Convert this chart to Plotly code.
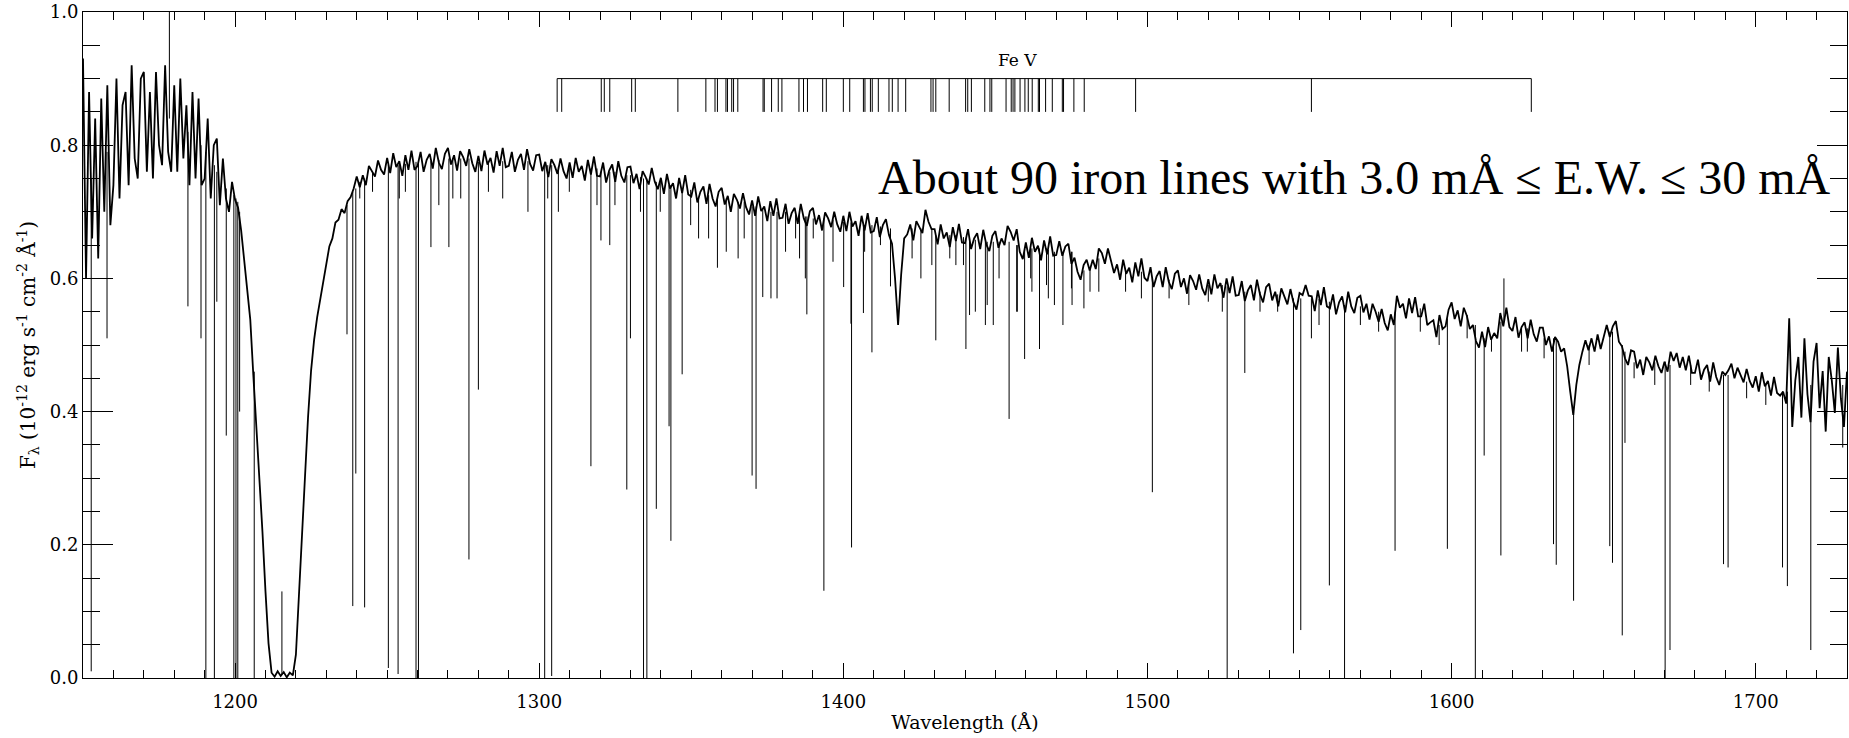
import numpy as np
import plotly.graph_objects as go

# ---------------- data ----------------
# continuum + noise, sampled every 1 Angstrom from 1150 to 1730
wl_start, wl_end = 1150, 1730
flux = [
    0.93, 0.60, 0.88, 0.66, 0.84, 0.63, 0.87, 0.70, 0.89, 0.68,       # 1150
    0.74, 0.90, 0.72, 0.86, 0.88, 0.74, 0.92, 0.78, 0.75, 0.90,       # 1160
    0.91, 0.76, 0.88, 0.75, 0.91, 0.80, 0.77, 0.92, 0.79, 0.76,       # 1170
    0.89, 0.76, 0.90, 0.78, 0.86, 0.74, 0.88, 0.75, 0.87, 0.74,       # 1180
    0.75, 0.84, 0.72, 0.80, 0.81, 0.71, 0.78, 0.72, 0.70, 0.745,      # 1190
    0.718, 0.706, 0.672, 0.625, 0.588, 0.538, 0.455, 0.382, 0.300, 0.220,  # 1200
    0.130, 0.052, 0.008, 0.002, 0.010, 0.003, 0.009, 0.001, 0.008, 0.004,  # 1210
    0.035, 0.128, 0.222, 0.318, 0.392, 0.462, 0.508, 0.542, 0.568, 0.598,  # 1220
    0.622, 0.648, 0.660, 0.684, 0.688, 0.704, 0.698, 0.716, 0.722, 0.735,  # 1230
    0.753, 0.737, 0.755, 0.74, 0.769, 0.762, 0.753, 0.777, 0.763, 0.756,  # 1240
    0.781, 0.758, 0.788, 0.767, 0.776, 0.754, 0.785, 0.763, 0.792, 0.763,  # 1250
    0.769, 0.79, 0.76, 0.778, 0.787, 0.765, 0.796, 0.774, 0.764, 0.787,   # 1260
    0.796, 0.771, 0.785, 0.762, 0.791, 0.782, 0.769, 0.794, 0.773, 0.76,  # 1270
    0.784, 0.761, 0.792, 0.771, 0.781, 0.759, 0.791, 0.769, 0.796, 0.767,  # 1280
    0.769, 0.79, 0.76, 0.778, 0.787, 0.763, 0.794, 0.772, 0.762, 0.785,   # 1290
    0.786, 0.761, 0.775, 0.752, 0.779, 0.77, 0.757, 0.78, 0.761, 0.75,    # 1300
    0.774, 0.751, 0.781, 0.76, 0.769, 0.747, 0.778, 0.756, 0.783, 0.754,  # 1310
    0.753, 0.774, 0.744, 0.762, 0.771, 0.745, 0.776, 0.754, 0.744, 0.767,  # 1320
    0.768, 0.743, 0.757, 0.734, 0.761, 0.752, 0.741, 0.766, 0.745, 0.734,  # 1330
    0.751, 0.727, 0.757, 0.735, 0.743, 0.72, 0.751, 0.728, 0.755, 0.726,  # 1340
    0.723, 0.744, 0.714, 0.73, 0.738, 0.712, 0.742, 0.72, 0.708, 0.73,    # 1350
    0.736, 0.711, 0.724, 0.70, 0.727, 0.718, 0.705, 0.728, 0.707, 0.696,  # 1360
    0.717, 0.694, 0.723, 0.701, 0.708, 0.686, 0.716, 0.694, 0.72, 0.69,   # 1370
    0.691, 0.712, 0.682, 0.698, 0.706, 0.682, 0.712, 0.69, 0.679, 0.701,  # 1380
    0.706, 0.681, 0.695, 0.672, 0.699, 0.69, 0.677, 0.70, 0.681, 0.67,    # 1390
    0.694, 0.671, 0.70, 0.678, 0.686, 0.664, 0.694, 0.672, 0.698, 0.669,  # 1400
    0.671, 0.692, 0.662, 0.68, 0.689, 0.665, 0.652, 0.60, 0.53, 0.605,    # 1410
    0.66, 0.666, 0.681, 0.657, 0.686, 0.677, 0.668, 0.703, 0.685, 0.674,  # 1420
    0.674, 0.651, 0.681, 0.66, 0.669, 0.647, 0.677, 0.656, 0.682, 0.654,  # 1430
    0.653, 0.674, 0.644, 0.66, 0.668, 0.644, 0.673, 0.651, 0.641, 0.664,  # 1440
    0.671, 0.646, 0.66, 0.65, 0.679, 0.67, 0.657, 0.674, 0.64, 0.629,     # 1450
    0.654, 0.631, 0.661, 0.64, 0.649, 0.627, 0.657, 0.636, 0.663, 0.634,  # 1460
    0.635, 0.656, 0.634, 0.648, 0.652, 0.622, 0.631, 0.61, 0.598, 0.62,   # 1470
    0.628, 0.612, 0.628, 0.614, 0.645, 0.638, 0.622, 0.645, 0.624, 0.608,  # 1480
    0.621, 0.598, 0.628, 0.607, 0.616, 0.594, 0.624, 0.603, 0.63, 0.601,  # 1490
    0.596, 0.617, 0.587, 0.603, 0.611, 0.587, 0.617, 0.595, 0.584, 0.607,  # 1500
    0.612, 0.587, 0.60, 0.577, 0.605, 0.596, 0.583, 0.606, 0.585, 0.575,  # 1510
    0.599, 0.576, 0.606, 0.585, 0.593, 0.571, 0.60, 0.578, 0.603, 0.574,  # 1520
    0.575, 0.596, 0.566, 0.582, 0.59, 0.567, 0.598, 0.576, 0.564, 0.587,  # 1530
    0.592, 0.567, 0.58, 0.558, 0.585, 0.574, 0.561, 0.584, 0.564, 0.553,  # 1540
    0.578, 0.575, 0.59, 0.574, 0.573, 0.551, 0.582, 0.56, 0.587, 0.558,   # 1550
    0.555, 0.576, 0.546, 0.564, 0.573, 0.549, 0.58, 0.558, 0.548, 0.571,  # 1560
    0.574, 0.549, 0.562, 0.538, 0.562, 0.55, 0.535, 0.554, 0.533, 0.522,  # 1570
    0.546, 0.53, 0.574, 0.556, 0.562, 0.54, 0.57, 0.548, 0.572, 0.543,    # 1580
    0.543, 0.562, 0.53, 0.534, 0.537, 0.512, 0.545, 0.524, 0.528, 0.553,  # 1590
    0.564, 0.539, 0.552, 0.528, 0.556, 0.544, 0.524, 0.53, 0.506, 0.496,  # 1600
    0.52, 0.497, 0.527, 0.508, 0.518, 0.51, 0.548, 0.528, 0.556, 0.527,   # 1610
    0.521, 0.542, 0.511, 0.527, 0.534, 0.51, 0.538, 0.516, 0.505, 0.526,  # 1620
    0.526, 0.50, 0.513, 0.49, 0.512, 0.505, 0.49, 0.495, 0.468, 0.43,     # 1630
    0.395, 0.44, 0.47, 0.49, 0.507, 0.492, 0.51, 0.49, 0.516, 0.494,      # 1640
    0.51, 0.53, 0.512, 0.528, 0.536, 0.505, 0.498, 0.48, 0.47, 0.492,     # 1650
    0.49, 0.465, 0.478, 0.455, 0.482, 0.474, 0.462, 0.484, 0.468, 0.458,  # 1660
    0.475, 0.46, 0.49, 0.476, 0.488, 0.466, 0.482, 0.462, 0.484, 0.458,   # 1670
    0.458, 0.478, 0.448, 0.463, 0.47, 0.445, 0.474, 0.452, 0.44, 0.46,    # 1680
    0.455, 0.462, 0.472, 0.45, 0.466, 0.456, 0.444, 0.464, 0.446, 0.436,  # 1690
    0.453, 0.43, 0.459, 0.438, 0.446, 0.424, 0.452, 0.428, 0.424, 0.43,   # 1700
    0.412, 0.54, 0.377, 0.447, 0.482, 0.391, 0.51, 0.426, 0.384, 0.475,   # 1710
    0.503, 0.405, 0.461, 0.37, 0.482, 0.447, 0.398, 0.496, 0.419, 0.377,  # 1720
    0.46,                                                                 # 1730
]

# strong narrow absorption (and a few emission) lines:
# wavelength, local continuum, line extreme
line_wl = [1152.7, 1157.9, 1178.4, 1184.5, 1188.8, 1190.4, 1193.2, 1194.0, 1197.1, 1199.6,
           1200.3, 1200.9, 1201.5, 1206.3, 1215.4, 1236.8, 1238.7, 1239.7, 1242.6, 1250.4,
           1253.6, 1259.5, 1260.3, 1264.4, 1270.3, 1276.9, 1280.0, 1301.8, 1304.1, 1317.0,
           1320.3, 1323.2, 1328.8, 1330.0, 1334.3, 1335.4, 1338.5, 1342.7, 1343.3, 1347.0,
           1352.4, 1358.6, 1361.5, 1365.4, 1370.0, 1371.3, 1373.5, 1376.2, 1378.2, 1381.0,
           1385.6, 1387.5, 1388.0, 1393.6, 1396.6, 1400.1, 1402.5, 1402.7, 1406.6, 1409.4,
           1415.5, 1425.5, 1430.4, 1437.0, 1440.3, 1441.5, 1446.7, 1449.3, 1454.5, 1457.2,
           1459.6, 1462.0, 1464.5, 1466.8, 1469.4, 1472.2, 1475.0, 1479.1, 1484.0, 1501.6,
           1520.0, 1526.2, 1532.0, 1548.0, 1550.4, 1553.9, 1559.8, 1564.8, 1581.4, 1598.6,
           1607.8, 1610.7, 1616.2, 1617.2, 1624.9, 1633.5, 1634.4, 1640.1, 1652.0, 1652.9,
           1656.1, 1657.0, 1670.2, 1671.8, 1689.4, 1690.9, 1708.8, 1710.4, 1718.1, 1728.6]
line_top = [0.75, 0.79, 0.84, 0.82, 0.80, 0.79, 0.77, 0.76, 0.735, 0.725,
            0.72, 0.715, 0.70, 0.46, 0.005, 0.71, 0.73, 0.735, 0.75, 0.77,
            0.77, 0.775, 0.775, 0.776, 0.78, 0.78, 0.775, 0.77, 0.77, 0.765,
            0.76, 0.76, 0.755, 0.755, 0.75, 0.75, 0.745, 0.74, 0.74, 0.735,
            0.72, 0.72, 0.72, 0.715, 0.708, 0.708, 0.705, 0.70, 0.70, 0.70,
            0.695, 0.693, 0.693, 0.69, 0.688, 0.685, 0.684, 0.684, 0.68, 0.68,
            0.675, 0.675, 0.665, 0.665, 0.66, 0.66, 0.655, 0.655, 0.655, 0.65,
            0.645, 0.645, 0.645, 0.645, 0.64, 0.64, 0.64, 0.612, 0.63, 0.60,
            0.59, 0.588, 0.58, 0.57, 0.57, 0.57, 0.565, 0.56, 0.55, 0.54,
            0.53, 0.51, 0.535, 0.535, 0.525, 0.51, 0.51, 0.40, 0.52, 0.52,
            0.50, 0.49, 0.475, 0.47, 0.455, 0.455, 0.43, 0.43, 0.44, 0.44]
line_bottom = [0.01, 0.51, 1.00, 0.558, 0.51, 0.0, 0.0, 0.565, 0.364, 0.0,
               0.0, 0.0, 0.40, 0.0, 0.13, 0.516, 0.108, 0.307, 0.106, 0.015,
               0.006, 0.0, 0.0, 0.647, 0.647, 0.178, 0.433, 0.0, 0.003, 0.318,
               0.657, 0.65, 0.283, 0.51, 0.0, 0.0, 0.254, 0.378, 0.206, 0.456,
               0.66, 0.616, 0.64, 0.63, 0.304, 0.284, 0.572, 0.57, 0.57, 0.64,
               0.63, 0.60, 0.546, 0.131, 0.625, 0.587, 0.532, 0.196, 0.548, 0.489,
               0.588, 0.60, 0.507, 0.62, 0.494, 0.545, 0.53, 0.53, 0.389, 0.55,
               0.479, 0.58, 0.494, 0.59, 0.56, 0.53, 0.585, 0.555, 0.58, 0.279,
               0.565, 0.0, 0.458, 0.037, 0.072, 0.51, 0.139, 0.0, 0.191, 0.194,
               0.0, 0.334, 0.184, 0.60, 0.49, 0.201, 0.17, 0.116, 0.198, 0.173,
               0.064, 0.353, 0.0, 0.042, 0.171, 0.166, 0.166, 0.138, 0.042, 0.346]

# weak lines that give the continuum its ragged look: wavelength, continuum, minimum
weak_wl = [1241.0, 1245.2, 1254.0, 1256.0, 1267.0, 1271.6, 1274.2, 1283.3, 1288.0, 1296.3,
           1302.8, 1306.3, 1309.9, 1319.0, 1324.9, 1333.3, 1339.8, 1349.8, 1355.7, 1367.4,
           1384.3, 1390.1, 1407.0, 1412.2, 1422.6, 1429.1, 1435.0, 1439.5, 1443.4, 1447.3,
           1451.2, 1457.0, 1461.6, 1467.4, 1475.2, 1481.1, 1492.8, 1498.0, 1507.1, 1513.6,
           1524.6, 1537.0, 1542.8, 1556.4, 1570.0, 1576.0, 1589.7, 1595.9, 1605.1, 1613.1,
           1623.0, 1630.4, 1645.2, 1660.0, 1666.8, 1678.6, 1684.7, 1697.0, 1703.3]
weak_top = [0.745, 0.76, 0.772, 0.772, 0.778, 0.78, 0.78, 0.776, 0.776, 0.776,
            0.77, 0.768, 0.766, 0.765, 0.76, 0.752, 0.745, 0.733, 0.725, 0.715,
            0.695, 0.69, 0.68, 0.678, 0.675, 0.675, 0.665, 0.662, 0.658, 0.655,
            0.655, 0.65, 0.645, 0.643, 0.64, 0.615, 0.612, 0.61, 0.598, 0.595,
            0.59, 0.58, 0.576, 0.569, 0.558, 0.55, 0.555, 0.53, 0.545, 0.512,
            0.525, 0.51, 0.50, 0.474, 0.474, 0.47, 0.46, 0.445, 0.44]
weak_bottom = [0.72, 0.73, 0.72, 0.73, 0.71, 0.72, 0.72, 0.73, 0.72, 0.70,
               0.72, 0.70, 0.73, 0.71, 0.71, 0.70, 0.70, 0.68, 0.66, 0.66,
               0.66, 0.66, 0.64, 0.65, 0.63, 0.62, 0.63, 0.62, 0.55, 0.56,
               0.60, 0.55, 0.60, 0.57, 0.56, 0.58, 0.58, 0.57, 0.57, 0.56,
               0.55, 0.55, 0.55, 0.53, 0.53, 0.52, 0.52, 0.50, 0.51, 0.49,
               0.49, 0.48, 0.47, 0.45, 0.44, 0.44, 0.43, 0.42, 0.41]

# Fe V line identifications (wavelengths of the marks)
fev_wl = [1305.9, 1307.4, 1320.4, 1321.4, 1323.2, 1330.4, 1331.6, 1345.6, 1354.8, 1357.8,
          1358.6, 1361.4, 1361.9, 1363.3, 1363.9, 1365.3, 1373.6, 1374.0, 1376.4, 1378.6,
          1379.8, 1385.4, 1386.9, 1388.2, 1393.2, 1394.4, 1400.0, 1402.1, 1406.6, 1407.1,
          1408.9, 1409.5, 1411.5, 1415.0, 1416.1, 1418.0, 1420.5, 1428.8, 1429.5, 1430.4,
          1434.8, 1440.2, 1440.9, 1442.1, 1446.5, 1448.2, 1448.8, 1453.5, 1455.2, 1455.8,
          1456.4, 1458.1, 1459.7, 1460.8, 1462.1, 1464.1, 1464.5, 1466.5, 1468.7, 1472.0,
          1472.4, 1475.8, 1479.2, 1496.1, 1553.9, 1626.2]
fev_bar_level = 0.90
fev_tick_bottom = 0.85

x_range = [1150, 1730]
y_range = [0.0, 1.0]

# ---------------- figure ----------------
wavelength = np.arange(wl_start, wl_end + 1)
assert len(wavelength) == len(flux)
assert len(line_wl) == len(line_top) == len(line_bottom)
assert len(weak_wl) == len(weak_top) == len(weak_bottom)

lx, ly = [], []
for w, t, b in zip(line_wl + weak_wl, line_top + weak_top, line_bottom + weak_bottom):
    lx += [w, w, None]
    ly += [t, b, None]

fx = [fev_wl[0], fev_wl[-1], None]
fy = [fev_bar_level, fev_bar_level, None]
for w in fev_wl:
    fx += [w, w, None]
    fy += [fev_bar_level, fev_tick_bottom, None]

fig = go.Figure()
fig.add_trace(go.Scatter(x=wavelength, y=flux, mode="lines",
                         line=dict(color="black", width=1.8), hoverinfo="skip"))
fig.add_trace(go.Scatter(x=lx, y=ly, mode="lines",
                         line=dict(color="black", width=1), hoverinfo="skip"))
fig.add_trace(go.Scatter(x=fx, y=fy, mode="lines",
                         line=dict(color="black", width=1), hoverinfo="skip"))

axis_font = dict(family="DejaVu Serif", size=18, color="black")

fig.update_xaxes(range=x_range, showgrid=False, zeroline=False,
                 showline=True, linecolor="black", linewidth=1, mirror="ticks",
                 ticks="inside", ticklen=15, tickwidth=1, tickcolor="black",
                 dtick=100, tick0=1100, tickfont=axis_font, ticklabelstandoff=7,
                 minor=dict(dtick=10, ticks="inside", ticklen=8, tickwidth=1, tickcolor="black"),
                 title=dict(text="Wavelength (Å)", font=dict(family="DejaVu Serif", size=19, color="black"),
                            standoff=5))
fig.update_yaxes(range=y_range, showgrid=False, zeroline=False,
                 showline=True, linecolor="black", linewidth=1, mirror="ticks",
                 ticks="inside", ticklen=30, tickwidth=1, tickcolor="black",
                 dtick=0.2, tick0=0, tickformat=".1f", tickfont=axis_font,
                 minor=dict(dtick=0.05, ticks="inside", ticklen=17, tickwidth=1, tickcolor="black"),
                 title=dict(text="F<sub>λ</sub> (10<sup>-12</sup> erg s<sup>-1</sup> cm<sup>-2</sup> Å<sup>-1</sup>)",
                            font=dict(family="DejaVu Serif", size=20, color="black"), standoff=8))

fig.add_annotation(x=1457.3, y=0.928, text="Fe V", showarrow=False,
                   xanchor="center", yanchor="middle",
                   font=dict(family="DejaVu Serif", size=17, color="black"))
fig.add_annotation(x=1410.7, y=0.752, text="About 90 iron lines with 3.0 mÅ ≤ E.W. ≤ 30 mÅ",
                   showarrow=False, xanchor="left", yanchor="middle",
                   font=dict(family="Liberation Serif", size=48, color="black"))

fig.update_layout(width=1849, height=738, autosize=False,
                  margin=dict(l=83, r=2, t=12, b=60),
                  paper_bgcolor="white", plot_bgcolor="white",
                  showlegend=False, hovermode=False)

fig.write_html("out.html", config={"displayModeBar": False})
